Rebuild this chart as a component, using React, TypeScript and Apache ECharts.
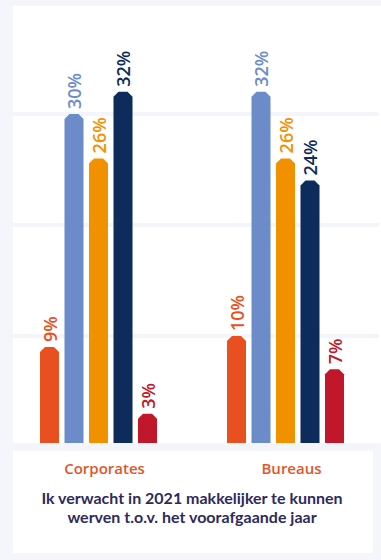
import React, { useEffect, useRef } from "react";
import * as echarts from "echarts";

const categories = ["Corporates", "Bureaus"];
const seriesNames = ["Reeks 1", "Reeks 2", "Reeks 3", "Reeks 4", "Reeks 5"];
const seriesColors = ["#e9501f", "#6b8cc8", "#f29100", "#0d2b5b", "#c0172a"];
const values1 = [9, 10];
const values2 = [30, 32];
const values3 = [26, 26];
const values4 = [32, 24];
const values5 = [3, 7];
const allValues = [values1, values2, values3, values4, values5];
const titleText =
  "Ik verwacht in 2021 makkelijker te kunnen\nwerven t.o.v. het voorafgaande jaar";

const BAR_W = 19;
const STEP = 24.5;
const CH = 5;
const FONT = '"Open Sans", "Noto Sans", sans-serif';

function makeRender(idx: number, color: string) {
  return (params: any, api: any) => {
    const cat = api.value(0);
    const val = api.value(1);
    const top = api.coord([cat, val]);
    const base = api.coord([cat, 0]);
    const cx = top[0] + (idx - 2) * STEP;
    const x0 = cx - BAR_W / 2;
    const x1 = cx + BAR_W / 2;
    const ty = top[1];
    const by = base[1] - 4;
    return {
      type: "group",
      children: [
        {
          type: "polygon",
          shape: {
            points: [
              [x0, by],
              [x0, ty + CH],
              [x0 + CH, ty],
              [x1 - CH, ty],
              [x1, ty + CH],
              [x1, by],
            ],
          },
          style: { fill: color },
        },
        {
          type: "text",
          x: cx,
          y: ty - 5,
          rotation: Math.PI / 2,
          style: {
            text: val + "%",
            fill: color,
            font: `600 18px ${FONT}`,
            align: "left",
            verticalAlign: "middle",
          },
        },
      ],
    };
  };
}

export default function App() {
  const ref = useRef<HTMLDivElement>(null);
  useEffect(() => {
    if (!ref.current) return;
    const chart = echarts.init(ref.current, null, { renderer: "svg" });
    const series = allValues.map((vals, i) => ({
      type: "custom",
      name: seriesNames[i],
      data: vals.map((v, j) => [j, v]),
      encode: { x: 0, y: 1 },
      renderItem: makeRender(i, seriesColors[i]),
      z: 3,
    }));
    chart.setOption({
      animation: false,
      backgroundColor: "#f4f6fb",
      grid: { left: 5, right: 2, top: 3, bottom: 113 },
      xAxis: {
        type: "category",
        data: categories,
        axisLine: { show: false },
        axisTick: { show: false },
        axisLabel: {
          margin: 13,
          color: "#e4542a",
          fontFamily: FONT,
          fontWeight: 600,
          fontSize: 15,
          padding: [0, 0, 0, 12],
        },
        z: 5,
      },
      yAxis: {
        type: "value",
        min: 0,
        max: 40,
        interval: 10,
        axisLabel: { show: false },
        axisLine: { show: false },
        axisTick: { show: false },
        splitLine: { lineStyle: { color: "#f3f5fa", width: 4 } },
      },
      graphic: [
        {
          type: "rect",
          shape: { x: 13, y: 6, width: 368, height: 437 },
          style: { fill: "#ffffff" },
          z: -10,
          silent: true,
        },
        {
          type: "rect",
          shape: { x: 13, y: 451, width: 360, height: 102 },
          style: { fill: "#ffffff" },
          z: -10,
          silent: true,
        },
        {
          type: "text",
          x: 192,
          y: 506.5,
          style: {
            text: titleText,
            fill: "#2e2b5c",
            font: `bold 16px Lato, ${FONT}`,
            lineHeight: 19,
            align: "center",
            verticalAlign: "middle",
          },
          z: 10,
        },
      ],
      series,
    });
    return () => chart.dispose();
  }, []);
  return (
    <div
      style={{
        position: "fixed",
        left: 0,
        top: 0,
        width: 381,
        height: 560,
        background: "#f4f6fb",
      }}
    >
      <div ref={ref} style={{ width: 381, height: 560 }} />
    </div>
  );
}
